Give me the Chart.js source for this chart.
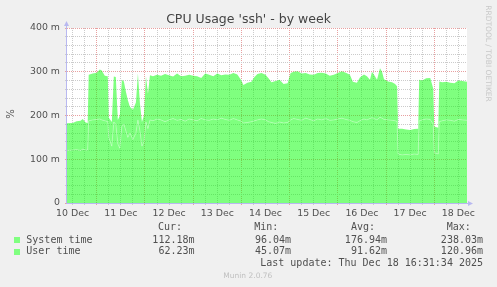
<!DOCTYPE html>
<html>
<head>
<meta charset="utf-8">
<title>CPU Usage 'ssh' - by week</title>
<script src="https://cdn.jsdelivr.net/npm/chart.js@4/dist/chart.umd.min.js"></script>
<style>
  body { margin: 0; background: #f0f0f0; }
  canvas { display: block; }
</style>
</head>
<body>
<canvas id="grafico" width="497" height="287"></canvas>
<script>
// horas contadas desde 10 Dec 00:00
const horas = [
  9, 12, 14, 16, 17, 18.5, 19.5,
  20, 22, 24, 25.5, 26.5, 28, 29.5,
  30, 31.5, 32.5, 33.5, 34.5, 35.5, 36.5, 37.5, 38.5, 39.5,
  40.5, 42, 43.5, 44.5, 45.5, 46.5, 47.5, 48.5, 49.5, 50.5,
  52, 54, 56, 58, 60, 62, 64, 66, 68, 70,
  72, 74, 76, 78, 80, 82, 84, 86, 88, 90,
  92, 94, 96, 97, 99, 101, 102.5, 104, 106, 108,
  109.5, 111, 113, 115, 117, 119, 120.5, 122, 124, 126,
  128, 130, 132, 134, 136, 138, 140, 142, 144, 146,
  148, 150, 151.5, 153.5, 155, 157, 158.5, 160, 161, 162.5,
  163.5, 165, 166, 167, 169, 171, 172.5, 173.5, 174, 176,
  178, 180, 182, 184, 184.5, 186, 188, 190, 191.5, 192,
  194, 194.5, 196, 198, 200, 202, 204, 206, 208.5
];

// valores em m (mili)
const systemTime = [
  120, 121, 122, 120, 123, 121, 121,
  188, 190, 191, 192, 190, 188, 186,
  150, 130, 185, 180, 135, 125, 175, 180, 165, 150,
  160, 145, 160, 190, 165, 130, 140, 185, 170, 190,
  188, 192, 190, 186, 190, 193, 189, 191, 187, 192,
  190, 188, 193, 190, 189, 192, 190, 194, 191, 189,
  193, 190, 187, 183, 184, 186, 188, 190, 192, 190,
  186, 184, 182, 185, 183, 184, 190, 193, 191, 189,
  194, 191, 188, 192, 190, 193, 189, 190, 192, 194,
  191, 189, 186, 184, 188, 192, 190, 193, 195, 192,
  190, 196, 194, 191, 190, 189, 188, 186, 112, 110,
  111, 110, 112, 111, 188, 190, 192, 191, 180, 115,
  112, 186, 188, 190, 189, 187, 191, 190, 189
];

const userTime = [
  62, 62, 65, 68, 69, 63, 62,
  105, 106, 107, 113, 113, 103, 104,
  45, 55, 104, 108, 55, 75, 107, 98, 90, 85,
  60, 68, 70, 106, 63, 55, 60, 105, 80, 102,
  102, 101, 101, 109, 102, 96, 107, 99, 104, 101,
  101, 102, 93, 106, 104, 98, 106, 98, 103, 104,
  104, 104, 93, 87, 91, 91, 100, 105, 105, 103,
  99, 92, 97, 97, 89, 90, 107, 107, 110, 107,
  103, 103, 105, 105, 108, 103, 102, 103, 105, 107,
  107, 104, 91, 91, 99, 102, 100, 89, 105, 98,
  92, 112, 106, 92, 88, 87, 84, 81, 58, 60,
  57, 57, 57, 59, 94, 90, 93, 95, 82, 60,
  60, 92, 88, 87, 86, 87, 89, 89, 88
];

const dias = ['10 Dec', '11 Dec', '12 Dec', '13 Dec', '14 Dec', '15 Dec', '16 Dec', '17 Dec', '18 Dec'];
const series = ['System time', 'User time'];
const colunas = ['Cur:', 'Min:', 'Avg:', 'Max:'];
const systemStats = ['112.18m', '96.04m', '176.94m', '238.03m'];
const userStats = ['62.23m', '45.07m', '91.62m', '120.96m'];

const verde = 'rgba(0, 255, 0, 0.5)';
const corMaior = '#e8a0a0';
const corMenor = '#cbcbcb';
const corEixo = '#b8b8f0';
const corTexto = '#505050';

// grade: meia-noite em vermelho (x), centenas em vermelho (y)
const marcasX = [];
for (let h = 12; h <= 204; h += 6) marcasX.push(h);
const marcasY = [];
for (let v = 0; v <= 400; v += 20) marcasY.push(v);
const corX = c => (marcasX[c.index] % 24 === 0 ? corMaior : corMenor);
const corY = c => (marcasY[c.index] % 100 === 0 ? corMaior : corMenor);

// fundo cinza e area branca
const fundo = {
  id: 'fundo',
  beforeDraw(chart) {
    const { ctx, chartArea: a } = chart;
    ctx.save();
    ctx.fillStyle = '#f0f0f0';
    ctx.fillRect(0, 0, chart.width, chart.height);
    ctx.fillStyle = '#ffffff';
    ctx.fillRect(a.left, a.top, a.right - a.left, a.bottom - a.top);
    ctx.restore();
  }
};

// eixos, titulo e legenda no estilo munin
const moldura = {
  id: 'moldura',
  afterDraw(chart) {
    const { ctx, chartArea: a } = chart;
    ctx.save();
    ctx.strokeStyle = corEixo;
    ctx.fillStyle = corEixo;
    ctx.lineWidth = 1;
    ctx.beginPath();
    ctx.moveTo(a.left - 0.5, a.bottom + 0.5);
    ctx.lineTo(a.left - 0.5, a.top - 2);
    ctx.moveTo(a.left - 0.5, a.bottom + 0.5);
    ctx.lineTo(a.right + 1, a.bottom + 0.5);
    ctx.stroke();
    ctx.beginPath();
    ctx.moveTo(a.left - 3, a.top - 2);
    ctx.lineTo(a.left + 2, a.top - 2);
    ctx.lineTo(a.left - 0.5, a.top - 7);
    ctx.fill();
    ctx.beginPath();
    ctx.moveTo(a.right + 1, a.bottom - 2);
    ctx.lineTo(a.right + 1, a.bottom + 3);
    ctx.lineTo(a.right + 6, a.bottom + 0.5);
    ctx.fill();

    ctx.textBaseline = 'middle';
    ctx.fillStyle = '#444';
    ctx.textAlign = 'center';
    ctx.font = '12.5px "DejaVu Sans"';
    ctx.fillText("CPU Usage 'ssh' - by week", 248.5, 19.5);

    ctx.fillStyle = corTexto;
    ctx.font = '10px "DejaVu Sans"';
    ctx.save();
    ctx.translate(11, 114);
    ctx.rotate(-Math.PI / 2);
    ctx.fillText('%', 0, 0);
    ctx.restore();

    ctx.fillStyle = '#c8c8c8';
    ctx.font = '7.5px "DejaVu Sans"';
    ctx.save();
    ctx.translate(488, 53.5);
    ctx.rotate(Math.PI / 2);
    ctx.fillText('RRDTOOL / TOBI OETIKER', 0, 0);
    ctx.restore();

    // legenda
    ctx.font = '10px "DejaVu Sans Mono"';
    ctx.fillStyle = corTexto;
    ctx.textAlign = 'left';
    const inicioCol = [158, 254.3, 351, 446.7];
    const fimCol = [194.5, 291, 387, 483];
    colunas.forEach((c, i) => ctx.fillText(c, inicioCol[i], 227.3));
    const linhas = [systemStats, userStats];
    const yLinha = [240, 251.7];
    series.forEach((nome, j) => {
      ctx.fillStyle = '#80ff80';
      ctx.fillRect(14, Math.round(yLinha[j]) - 3, 6, 6);
      ctx.fillStyle = corTexto;
      ctx.textAlign = 'left';
      ctx.fillText(nome, 26.3, yLinha[j]);
      ctx.textAlign = 'right';
      linhas[j].forEach((v, i) => ctx.fillText(v, fimCol[i], yLinha[j]));
    });
    ctx.textAlign = 'right';
    ctx.fillText('Last update: Thu Dec 18 16:31:34 2025', 483, 263.3);

    ctx.textAlign = 'left';
    ctx.fillStyle = '#c0c0c0';
    ctx.font = '7.5px "DejaVu Sans"';
    ctx.fillText('Munin 2.0.76', 223.3, 276);
    ctx.restore();
  }
};

const dataCpu = {
  labels: horas,
  datasets: [{
    label: series[0],
    data: systemTime,
    backgroundColor: verde,
    borderColor: 'rgba(255, 255, 255, 0.3)',
    borderWidth: 1,
    pointRadius: 0,
    tension: 0,
    fill: 'origin',
  }, {
    label: series[1],
    data: userTime,
    backgroundColor: verde,
    borderColor: 'transparent',
    borderWidth: 1,
    pointRadius: 0,
    tension: 0,
    fill: '-1',
  }]
};

const fonteEixo = { family: 'DejaVu Sans', size: 9.4 };

const configCpu = {
  type: 'line',
  data: dataCpu,
  plugins: [fundo, moldura],
  options: {
    responsive: false,
    animation: false,
    devicePixelRatio: 1,
    layout: { padding: { left: 0, right: 30, top: 28, bottom: 0 } },
    plugins: {
      legend: { display: false },
      tooltip: { enabled: false },
      title: { display: false },
    },
    scales: {
      x: {
        type: 'linear',
        min: 9.2,
        max: 208.3,
        afterBuildTicks(s) { s.ticks = marcasX.map(h => ({ value: h })); },
        afterFit(s) { s.height = 84; },
        grid: { color: corX, tickColor: corX, tickLength: 2 },
        border: { display: false, dash: [1, 1] },
        ticks: {
          autoSkip: false,
          maxRotation: 0,
          padding: 3,
          color: corTexto,
          font: fonteEixo,
          callback: v => (v % 24 === 12 ? dias[(v - 12) / 24] : ''),
        },
      },
      y: {
        stacked: true,
        min: 0,
        max: 400,
        afterBuildTicks(s) { s.ticks = marcasY.map(v => ({ value: v })); },
        afterFit(s) { s.width = 67; },
        grid: { color: corY, tickColor: corY, tickLength: 2 },
        border: { display: false, dash: [1, 1] },
        ticks: {
          autoSkip: false,
          padding: 5,
          color: corTexto,
          font: fonteEixo,
          callback: v => (v % 100 === 0 ? (v === 0 ? '0' : v + ' m') : ''),
        },
      },
    },
  }
};

const graficoCpu = new Chart(
  document.getElementById('grafico'),
  configCpu
);
</script>
</body>
</html>
